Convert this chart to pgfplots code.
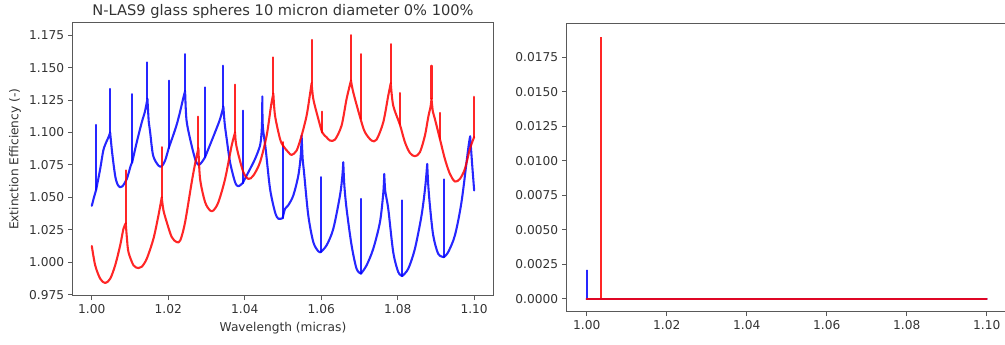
\documentclass[border=0pt]{standalone}
\usepackage{pgfplots}
\pgfplotsset{compat=1.18}
\usepackage{fontspec}
\setmainfont{DejaVu Sans}
\definecolor{txt}{gray}{0.2}
\definecolor{frm}{gray}{0.35}
\begin{document}
\begin{tikzpicture}
\useasboundingbox (0,0) rectangle (824.1pt,282.9pt);
\pgfplotsset{
  common/.style={
    scale only axis,
    anchor=south west,
    axis line style={frm, line width=0.8pt},
    tick style={frm, line width=0.8pt},
    tick align=outside,
    tick pos=left,
    major tick length=3.5pt,
    ticklabel style={font=\fontsize{10}{12}\selectfont, text=txt},
    label style={font=\fontsize{10}{12}\selectfont, text=txt},
    /pgf/number format/assume math mode=true,
    xmin=0.995, xmax=1.105,
    xtick={1.00,1.02,1.04,1.06,1.08,1.10},
    xticklabel style={/pgf/number format/fixed, /pgf/number format/precision=2, /pgf/number format/fixed zerofill},
    scaled ticks=false,
    unbounded coords=jump,
  },
  arcB/.style={blue, line width=1.7pt, opacity=0.85, smooth, tension=0.5, line join=round, line cap=round},
  arcR/.style={red, line width=1.7pt, opacity=0.85, smooth, tension=0.5, line join=round, line cap=round},
  spkB/.style={blue, line width=1.7pt, opacity=0.85, line cap=round},
  spkR/.style={red, line width=1.7pt, opacity=0.85, line cap=round},
}
\begin{axis}[common,
  at={(59.6pt,40.2pt)}, width=344.9pt, height=224.1pt,
  ymin=0.974, ymax=1.1846,
  ytick={0.975,1.000,1.025,1.050,1.075,1.100,1.125,1.150,1.175},
  yticklabel style={/pgf/number format/fixed, /pgf/number format/precision=3, /pgf/number format/fixed zerofill},
  xlabel={Wavelength (micras)},
  ylabel={Extinction Efficiency (-)},
  title={N-LAS9 glass spheres 10 micron diameter 0\% 100\%},
  title style={font=\fontsize{12}{14}\selectfont, text=txt, at={(0.5,1)}, anchor=base, yshift=0pt},
]
% blue curve (arcs between resonances)
\addplot[arcB] coordinates {
(1.00000,1.0435)(1.00057,1.050)(1.00115,1.056) (1.00115,nan)
(1.00115,1.056)(1.00220,1.072)(1.00300,1.086)(1.00370,1.092)(1.00436,1.0963)(1.00480,1.100) (1.00480,nan)
(1.00480,1.100)(1.00530,1.085)(1.00610,1.0668)(1.00672,1.060)(1.00742,1.0578)(1.00802,1.0585)(1.00915,1.0642)(1.01019,1.0745)(1.01056,1.077) (1.01056,nan)
(1.01056,1.077)(1.01176,1.0925)(1.01307,1.1078)(1.01385,1.1155)(1.01430,1.122)(1.01455,1.126) (1.01455,nan)
(1.01455,1.126)(1.01490,1.108)(1.01526,1.1002)(1.01604,1.0822)(1.01743,1.0745)(1.01829,1.0740)(1.01918,1.0784)(1.02012,1.088) (1.02012,nan)
(1.02012,1.088)(1.02143,1.099)(1.02230,1.107)(1.02317,1.117)(1.02380,1.125)(1.02440,1.132) (1.02440,nan)
(1.02440,1.132)(1.02475,1.11)(1.02571,1.095)(1.02702,1.0796)(1.02788,1.075)(1.02874,1.077)(1.02963,1.081) (1.02963,nan)
(1.02963,1.081)(1.03049,1.0873)(1.03224,1.1002)(1.03355,1.1104)(1.03441,1.120) (1.03441,nan)
(1.03441,1.120)(1.03475,1.107)(1.03528,1.095)(1.03616,1.077)(1.03747,1.0617)(1.03833,1.0586)(1.03946,1.061) (1.03946,nan)
(1.03946,1.061)(1.04095,1.0694)(1.04270,1.0796)(1.04400,1.0899)(1.04435,1.098)(1.04452,1.108)(1.04460,1.1278) (1.04460,nan)
(1.04460,1.1278)(1.04472,1.105)(1.04547,1.0873)(1.04662,1.0565)(1.04792,1.0386)(1.04879,1.0335)(1.04991,1.034) (1.04991,nan)
(1.04991,1.034)(1.05054,1.0412)(1.05140,1.0440)(1.05270,1.0515)(1.05401,1.0668)(1.05467,1.083)(1.05487,1.0976) (1.05487,nan)
(1.05487,1.0976)(1.05514,1.080)(1.05550,1.0694)(1.05662,1.036)(1.05793,1.0155)(1.05924,1.0084)(1.05984,1.0078) (1.05984,nan)
(1.05984,1.0078)(1.06140,1.013)(1.06316,1.0258)(1.06491,1.0515)(1.06551,1.066)(1.06577,1.0771) (1.06577,nan)
(1.06577,1.0771)(1.06603,1.060)(1.06663,1.0412)(1.06794,1.013)(1.06924,0.995)(1.07040,0.9912) (1.07040,nan)
(1.07040,0.9912)(1.07186,0.9976)(1.07361,1.0104)(1.07536,1.0309)(1.07622,1.053)(1.07649,1.0681) (1.07649,nan)
(1.07649,1.0681)(1.07674,1.055)(1.07753,1.0412)(1.07883,1.0078)(1.08014,0.9925)(1.08119,0.9894) (1.08119,nan)
(1.08119,0.9894)(1.08276,0.995)(1.08450,1.0104)(1.08623,1.036)(1.08720,1.058)(1.08772,1.0758) (1.08772,nan)
(1.08772,1.0758)(1.08798,1.060)(1.08842,1.0438)(1.08929,1.0207)(1.09059,1.0065)(1.09208,1.004) (1.09208,nan)
(1.09208,1.004)(1.09320,1.0078)(1.09496,1.0207)(1.09668,1.0463)(1.09843,1.0873)(1.09895,1.0971) (1.09895,nan)
(1.09895,1.0971)(1.09948,1.075)(1.10000,1.0553)
};
% blue resonance spikes
\addplot[spkB] coordinates {
(1.00115,1.056)(1.00115,1.1058) (1.00115,nan)
(1.00480,1.100)(1.00480,1.1335) (1.00480,nan)
(1.01056,1.077)(1.01056,1.1296) (1.01056,nan)
(1.01455,1.126)(1.01455,1.154) (1.01455,nan)
(1.02012,1.088)(1.02012,1.1399) (1.02012,nan)
(1.02440,1.132)(1.02440,1.1604) (1.02440,nan)
(1.02963,1.081)(1.02963,1.1348) (1.02963,nan)
(1.03441,1.120)(1.03441,1.1514) (1.03441,nan)
(1.03946,1.061)(1.03946,1.1168) (1.03946,nan)
(1.04991,1.034)(1.04991,1.0894) (1.04991,nan)
(1.05984,1.0078)(1.05984,1.0655) (1.05984,nan)
(1.07040,0.9912)(1.07040,1.0488) (1.07040,nan)
(1.08119,0.9894)(1.08119,1.0476) (1.08119,nan)
(1.09208,1.004)(1.09208,1.0638)
};
% red curve
\addplot[arcR] coordinates {
(1.00000,1.0125)(1.00089,0.9976)(1.00220,0.9873)(1.00350,0.9840)(1.00481,0.9873)(1.00611,0.9976)(1.00742,1.013)(1.00828,1.0258)(1.00888,1.030) (1.00888,nan)
(1.00888,1.030)(1.00920,1.018)(1.00959,1.0078)(1.01090,0.9976)(1.01220,0.9955)(1.01307,0.9965)(1.01437,1.0027)(1.01612,1.0181)(1.01743,1.0361)(1.01829,1.050) (1.01829,nan)
(1.01829,1.050)(1.01874,1.040)(1.01960,1.0309)(1.02090,1.0194)(1.02221,1.0155)(1.02317,1.017)(1.02440,1.0309)(1.02613,1.0617)(1.02702,1.0760)(1.02788,1.088) (1.02788,nan)
(1.02788,1.088)(1.02832,1.0642)(1.02963,1.0463)(1.03094,1.0399)(1.03180,1.0399)(1.03311,1.0463)(1.03486,1.0642)(1.03658,1.0899)(1.03747,1.100) (1.03747,nan)
(1.03747,1.100)(1.03768,1.092)(1.03833,1.0830)(1.03964,1.0694)(1.04095,1.0642)(1.04225,1.0668)(1.04400,1.0771)(1.04573,1.0976)(1.04688,1.1207)(1.04748,1.130) (1.04748,nan)
(1.04748,1.130)(1.04792,1.113)(1.04923,1.095)(1.05009,1.0895)(1.05140,1.0848)(1.05226,1.0827)(1.05357,1.0861)(1.05487,1.0976)(1.05618,1.113)(1.05707,1.1296)(1.05749,1.138) (1.05749,nan)
(1.05749,1.138)(1.05793,1.1258)(1.05924,1.1104)(1.06028,1.100)(1.06140,1.0963)(1.06229,1.0938)(1.06360,1.0945)(1.06532,1.1053)(1.06663,1.1258)(1.06778,1.140) (1.06778,nan)
(1.06778,1.140)(1.06838,1.1309)(1.07029,1.1104)(1.07144,1.1002)(1.07316,1.0938)(1.07447,1.0945)(1.07622,1.1078)(1.07753,1.1284)(1.07818,1.138) (1.07818,nan)
(1.07818,1.138)(1.07883,1.1207)(1.08058,1.106)(1.08189,1.0925)(1.08320,1.0842)(1.08450,1.0817)(1.08581,1.0848)(1.08712,1.0976)(1.08800,1.112)(1.08860,1.120)(1.08884,1.126) (1.08884,nan)
(1.08884,1.126)(1.08920,1.116)(1.08973,1.1104)(1.09104,1.095)(1.09234,1.0796)(1.09365,1.0681)(1.09496,1.0622)(1.09626,1.0642)(1.09757,1.0719)(1.09888,1.0873)(1.10000,1.0965)
};
% red resonance spikes
\addplot[spkR] coordinates {
(1.00888,1.030)(1.00888,1.0707) (1.00888,nan)
(1.01829,1.050)(1.01829,1.0886) (1.01829,nan)
(1.02788,1.088)(1.02788,1.1122) (1.02788,nan)
(1.03747,1.100)(1.03747,1.1368) (1.03747,nan)
(1.04748,1.130)(1.04748,1.1578) (1.04748,nan)
(1.05009,1.0895)(1.05009,1.0925) (1.05009,nan)
(1.05749,1.138)(1.05749,1.1714) (1.05749,nan)
(1.06028,1.100)(1.06028,1.116) (1.06028,nan)
(1.06778,1.140)(1.06778,1.175) (1.06778,nan)
(1.07029,1.1104)(1.07029,1.1604) (1.07029,nan)
(1.07818,1.138)(1.07818,1.168) (1.07818,nan)
(1.08058,1.106)(1.08058,1.1304) (1.08058,nan)
(1.08884,1.126)(1.08884,1.1514) (1.08884,nan)
(1.09104,1.095)(1.09104,1.115) (1.09104,nan)
(1.10000,1.0965)(1.10000,1.1275)
};
\end{axis}
\begin{axis}[common,
  at={(464.7pt,27.1pt)}, width=360.8pt, height=236.2pt,
  ymin=-0.00095, ymax=0.0199,
  ytick={0,0.0025,0.005,0.0075,0.01,0.0125,0.015,0.0175},
  yticklabel style={/pgf/number format/fixed, /pgf/number format/precision=4, /pgf/number format/fixed zerofill},
]
\addplot[spkB] coordinates {
(1.00000,0)(1.00012,0)(1.00012,0.0021)(1.00012,0)(1.10000,0)
};
\addplot[spkR] coordinates {
(1.00000,0)(1.00358,0)(1.00358,0.01895)(1.00358,0)(1.10000,0)
};
\end{axis}
\end{tikzpicture}
\end{document}
